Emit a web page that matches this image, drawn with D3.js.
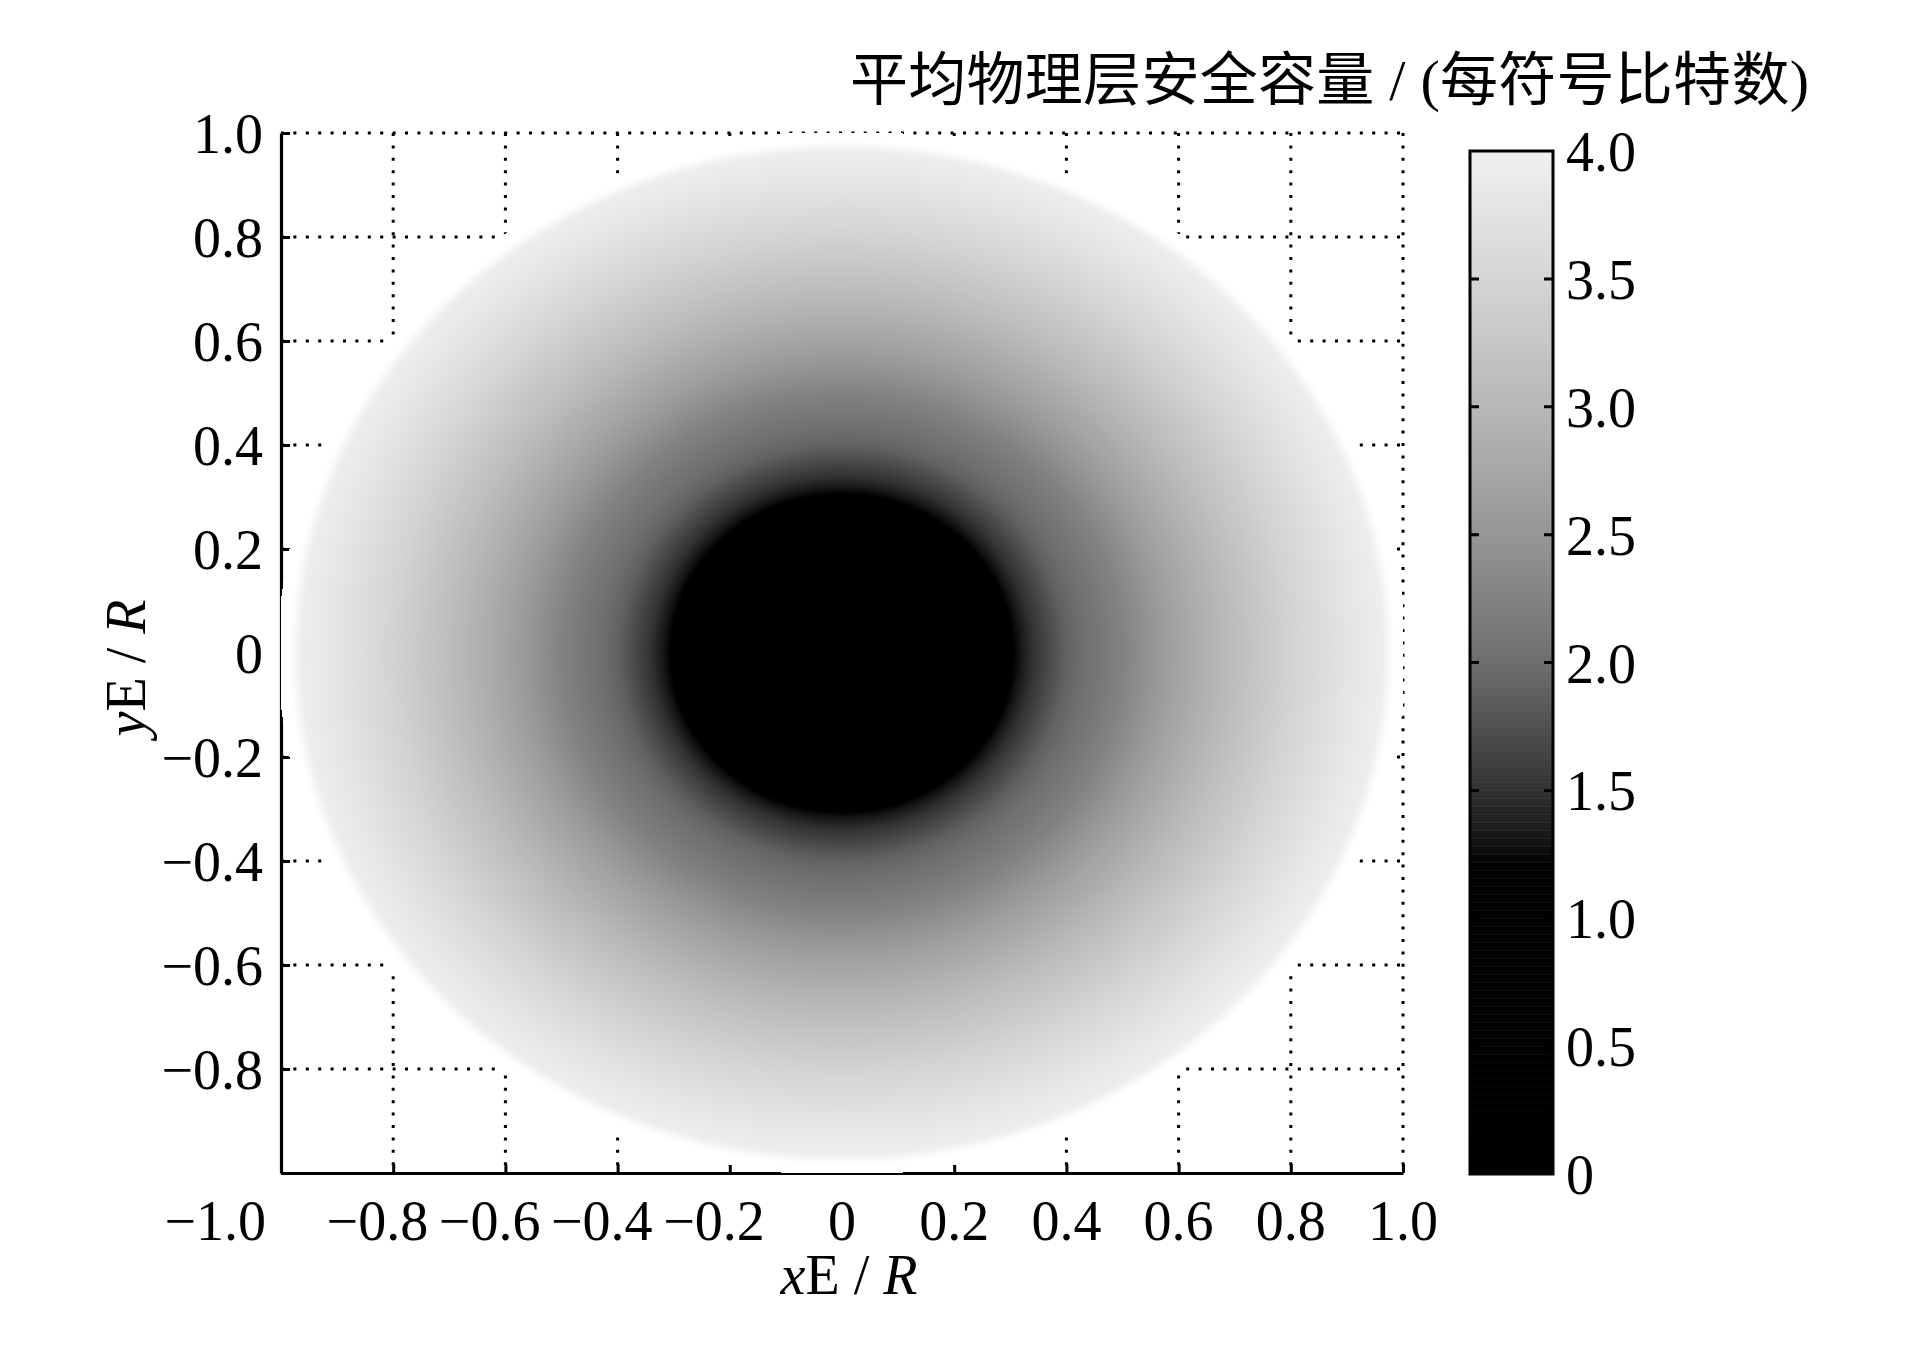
<!DOCTYPE html>
<html lang="zh">
<head>
    <meta charset="UTF-8">
    <title>平均物理层安全容量</title>
    <script src="https://cdn.jsdelivr.net/npm/d3@7"></script>
    <style>
        body { margin: 0; background: #fff; }
        text { font-family: 'Liberation Serif', 'Noto Sans CJK SC', serif; fill: #000; }
    </style>
</head>
<body>
<script>
    const [width, height] = [1913, 1346]
    const plot = {left: 281, right: 1403, top: 133, bottom: 1173}
    const bar = {left: 1470, right: 1553, top: 151, bottom: 1174}

    // radial profile of the map, r = distance from centre / R
    const radii = [0, 0.1, 0.2, 0.3, 0.34, 0.4, 0.5, 0.6, 0.7, 0.8, 0.9, 0.98]
    const capacity = [0.3, 0.4, 0.7, 1.15, 1.5, 1.9, 2.25, 2.7, 3.1, 3.45, 3.78, 4.0]
    // grey colormap: value -> grey level
    const cmapValues = [0, 1.2, 1.3, 1.5, 2.0, 2.5, 3.0, 3.5, 4.0]
    const cmapGreys = [0, 0, 20, 50, 110, 150, 183, 213, 240]
    const xTicks = [-1, -0.8, -0.6, -0.4, -0.2, 0, 0.2, 0.4, 0.6, 0.8, 1]
    const yTicks = [-0.8, -0.6, -0.4, -0.2, 0, 0.2, 0.4, 0.6, 0.8, 1]
    const cTicks = [0, 0.5, 1, 1.5, 2, 2.5, 3, 3.5, 4]
    const diskRadius = 0.98
    const maskRadius = 1.005

    const svg = d3.select('body').append('svg').attr('width', width).attr('height', height)

    const x = d3.scaleLinear().domain([-1, 1]).range([plot.left, plot.right])
    const y = d3.scaleLinear().domain([-1, 1]).range([plot.bottom, plot.top])
    const c = d3.scaleLinear().domain([0, 4]).range([bar.bottom, bar.top])
    const profile = d3.scaleLinear().domain(radii).range(capacity).clamp(true)
    const grey = d3.scaleLinear().domain(cmapValues).range(cmapGreys).clamp(true)
    // soft rim of the disk (blurred edge in the original)
    const rim = d3.scaleLinear().domain([diskRadius - 0.015, diskRadius + 0.005]).range([0, 1]).clamp(true)

    const fmt = v => v === 0 ? '0' : d3.format('.1f')(Math.abs(v))
    const label = v => (v < 0 ? '\u2212' : '') + fmt(v)

    // dotted grid
    const grid = svg.append('g').attr('stroke', '#000').attr('stroke-width', 3).attr('stroke-dasharray', '3,9.4')
    grid.selectAll('line.gx').data(xTicks.slice(1)).join('line').attr('class', 'gx')
        .attr('x1', d => x(d)).attr('x2', d => x(d)).attr('y1', y(1)).attr('y2', y(-1))
    grid.selectAll('line.gy').data(yTicks).join('line').attr('class', 'gy')
        .attr('y1', d => y(d)).attr('y2', d => y(d)).attr('x1', x(-1)).attr('x2', x(1))

    // axes, ticks pointing inwards
    const renderAxis = (axis, transform) => {
        const g = svg.append('g').attr('transform', transform).call(axis)
        g.select('.domain').attr('stroke-width', 3.2)
        g.selectAll('.tick line').attr('stroke-width', 3)
        g.selectAll('.tick text').remove()
    }
    renderAxis(d3.axisBottom(x).tickValues(xTicks).tickSize(-9).tickSizeOuter(0), `translate(0,${plot.bottom})`)
    renderAxis(d3.axisLeft(y).tickValues(yTicks.concat([-1])).tickSize(-9).tickSizeOuter(0), `translate(${plot.left},0)`)

    // heat map, drawn over grid and axes like the original
    const [w, h] = [plot.right - plot.left, plot.bottom - plot.top]
    const canvas = d3.create('canvas').attr('width', w).attr('height', h).node()
    const ctx = canvas.getContext('2d')
    const img = ctx.createImageData(w, h)
    for (let j = 0; j < h; j++) {
        const yv = y.invert(plot.top + j + 0.5)
        for (let i = 0; i < w; i++) {
            const xv = x.invert(plot.left + i + 0.5)
            const r = Math.hypot(xv, yv)
            const k = 4 * (j * w + i)
            if (r > maskRadius) { img.data[k + 3] = 0; continue }
            const g0 = grey(profile(Math.min(r, diskRadius)))
            const g = Math.round(g0 + (255 - g0) * rim(r))
            img.data[k] = img.data[k + 1] = img.data[k + 2] = g
            img.data[k + 3] = 255
        }
    }
    ctx.putImageData(img, 0, 0)
    svg.append('image').attr('x', plot.left).attr('y', plot.top).attr('width', w).attr('height', h)
        .attr('href', canvas.toDataURL())

    // tick labels
    const fontSize = 56
    const measure = svg.append('text').attr('font-size', fontSize).attr('opacity', 0)
    const widthOf = s => measure.text(s).node().getComputedTextLength()

    svg.append('g').selectAll('text').data(xTicks).join('text')
        .attr('font-size', fontSize)
        .attr('text-anchor', 'end')
        .attr('x', (d, i) => i === 0 ? x(d) - 15 : x(d) + widthOf(fmt(d)) / 2)
        .attr('y', 1240)
        .text(label)

    svg.append('g').selectAll('text').data(yTicks).join('text')
        .attr('font-size', fontSize)
        .attr('text-anchor', 'end')
        .attr('x', plot.left - 18)
        .attr('y', d => y(d) + 20)
        .text(label)
    measure.remove()

    // axis titles
    const xLabel = svg.append('text').attr('font-size', fontSize).attr('text-anchor', 'middle')
        .attr('x', 849).attr('y', 1294)
    xLabel.append('tspan').attr('font-style', 'italic').text('x')
    xLabel.append('tspan').text('E / ')
    xLabel.append('tspan').attr('font-style', 'italic').text('R')

    const yLabel = svg.append('text').attr('font-size', fontSize).attr('text-anchor', 'middle')
        .attr('transform', 'translate(145,668) rotate(-90)')
    yLabel.append('tspan').attr('font-style', 'italic').text('y')
    yLabel.append('tspan').text('E / ')
    yLabel.append('tspan').attr('font-style', 'italic').text('R')

    // colour bar
    const steps = d3.range(0, 4, 4 / 128)
    svg.append('g').selectAll('rect').data(steps).join('rect')
        .attr('x', bar.left).attr('width', bar.right - bar.left)
        .attr('y', d => c(d + 4 / 128)).attr('height', d => c(d) - c(d + 4 / 128) + 0.5)
        .attr('fill', d => { const g = Math.round(grey(d + 2 / 128)); return d3.rgb(g, g, g) })
    const inner = cTicks.slice(1, -1)
    svg.append('g').attr('stroke', '#000').attr('stroke-width', 3).selectAll('path').data(inner).join('path')
        .attr('d', d => `M${bar.left},${c(d)}h9M${bar.right},${c(d)}h-9`)
    svg.append('rect').attr('x', bar.left).attr('y', bar.top)
        .attr('width', bar.right - bar.left).attr('height', bar.bottom - bar.top)
        .attr('fill', 'none').attr('stroke', '#000').attr('stroke-width', 3)
    svg.append('g').selectAll('text').data(cTicks).join('text')
        .attr('font-size', fontSize)
        .attr('x', 1566)
        .attr('y', d => c(d) + 20)
        .text(fmt)

    svg.append('text').attr('font-size', 58).attr('text-anchor', 'end')
        .attr('x', 1809).attr('y', 100)
        .attr('textLength', 959).attr('lengthAdjust', 'spacing')
        .text('平均物理层安全容量 / (每符号比特数)')
</script>
</body>
</html>
